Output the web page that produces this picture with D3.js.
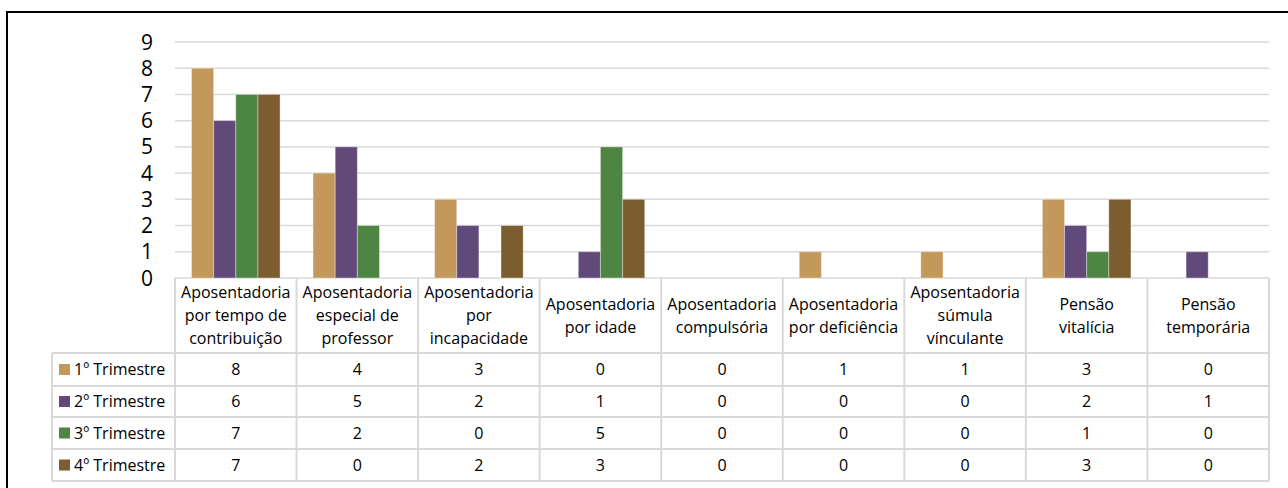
<!DOCTYPE html>
<meta charset="utf-8">
<style>
body { margin: 0; background: #fff; }
text { font-family: "Open Sans", sans-serif; fill: #000; }
.grid line { stroke: #d9d9d9; stroke-width: 1.5px; }
.tbl line { stroke: #d9d9d9; stroke-width: 2px; }
</style>
<svg width="1288" height="488"></svg>
<script src="https://d3js.org/d3.v7.min.js"></script>
<script>

// categories (header lines as they wrap in the table)
var categories = [
  ["Aposentadoria", "por tempo de", "contribuição"],
  ["Aposentadoria", "especial de", "professor"],
  ["Aposentadoria", "por", "incapacidade"],
  ["Aposentadoria", "por idade"],
  ["Aposentadoria", "compulsória"],
  ["Aposentadoria", "por deficiência"],
  ["Aposentadoria", "súmula", "vínculante"],
  ["Pensão", "vitalícia"],
  ["Pensão", "temporária"]
];
var seriesNames = ["1º Trimestre", "2º Trimestre", "3º Trimestre", "4º Trimestre"];
var seriesColors = ["#c3985a", "#614a7a", "#4e8542", "#7b5d2f"];
var q1 = [8, 4, 3, 0, 0, 1, 1, 3, 0];
var q2 = [6, 5, 2, 1, 0, 0, 0, 2, 1];
var q3 = [7, 2, 0, 5, 0, 0, 0, 1, 0];
var q4 = [7, 0, 2, 3, 0, 0, 0, 3, 0];
var yTicks = [0, 1, 2, 3, 4, 5, 6, 7, 8, 9];

var series = [q1, q2, q3, q4];
var catKeys = categories.map(function(c, i) { return i; });

var svg = d3.select("svg");

var plotLeft = 175, plotRight = 1269, plotTop = 42, base = 278;
var rowLines = [353, 386, 417, 449, 481];
var legendLeft = 52;

var y = d3.scaleLinear().domain([0, 9]).range([base, plotTop]);
var x0 = d3.scaleBand().domain(catKeys).range([plotLeft, plotRight]).padding(0);
var bw = x0.bandwidth();
var x1 = d3.scaleBand().domain(d3.range(series.length)).range([16.5, bw - 16.5]).padding(0);

// outer frame
svg.append("path")
    .attr("d", "M7,488 V12 H1288")
    .attr("fill", "none")
    .attr("stroke", "#000")
    .attr("stroke-width", 2);

// gridlines
svg.append("g").attr("class", "grid")
  .selectAll("line")
  .data(yTicks)
  .enter().append("line")
    .attr("x1", plotLeft).attr("x2", plotRight)
    .attr("y1", function(d) { return y(d); })
    .attr("y2", function(d) { return y(d); });

// y axis labels
svg.append("g")
  .selectAll("text")
  .data(yTicks)
  .enter().append("text")
    .attr("x", 153)
    .attr("y", function(d) { return y(d); })
    .attr("dy", "0.36em")
    .attr("text-anchor", "end")
    .attr("font-size", 21)
    .text(function(d) { return d; });

// bars
var groups = svg.append("g")
  .selectAll("g")
  .data(catKeys)
  .enter().append("g")
    .attr("transform", function(i) { return "translate(" + x0(i) + ",0)"; });

groups.selectAll("rect")
  .data(function(i) {
    return series.map(function(s, k) { return {k: k, v: s[i]}; })
      .filter(function(d) { return d.v > 0; });
  })
  .enter().append("rect")
    .attr("x", function(d) { return x1(d.k); })
    .attr("width", x1.bandwidth())
    .attr("y", function(d) { return y(d.v); })
    .attr("height", function(d) { return base - y(d.v); })
    .attr("fill", function(d) { return seriesColors[d.k]; })
    .attr("stroke", "rgba(255,255,255,0.35)")
    .attr("stroke-width", 1);

// data table
var tbl = svg.append("g").attr("class", "tbl");

tbl.selectAll("line.v")
  .data(d3.range(categories.length + 1))
  .enter().append("line")
    .attr("x1", function(i) { return plotLeft + i * bw; })
    .attr("x2", function(i) { return plotLeft + i * bw; })
    .attr("y1", base)
    .attr("y2", rowLines[rowLines.length - 1]);

tbl.append("line")
    .attr("x1", legendLeft).attr("x2", legendLeft)
    .attr("y1", rowLines[0]).attr("y2", rowLines[rowLines.length - 1]);

tbl.selectAll("line.h")
  .data(rowLines)
  .enter().append("line")
    .attr("x1", legendLeft).attr("x2", plotRight)
    .attr("y1", function(d) { return d; })
    .attr("y2", function(d) { return d; });

// header labels
var headMid = (base + rowLines[0]) / 2;
svg.append("g")
  .selectAll("text")
  .data(categories)
  .enter().append("text")
    .attr("text-anchor", "middle")
    .attr("font-size", 16)
    .each(function(lines, i) {
      var t = d3.select(this);
      var start = headMid - (lines.length - 1) * 23 / 2;
      lines.forEach(function(l, j) {
        t.append("tspan")
          .attr("x", x0(i) + bw / 2)
          .attr("y", start + j * 23)
          .attr("dy", "0.35em")
          .text(l);
      });
    });

// table rows
series.forEach(function(s, k) {
  var cy = (rowLines[k] + rowLines[k + 1]) / 2;
  svg.append("rect")
      .attr("x", 59).attr("y", cy - 5.5)
      .attr("width", 11).attr("height", 11)
      .attr("fill", seriesColors[k]);
  svg.append("text")
      .attr("x", 74).attr("y", cy)
      .attr("dy", "0.35em")
      .attr("font-size", 16)
      .text(seriesNames[k]);
  svg.append("g")
    .selectAll("text")
    .data(s)
    .enter().append("text")
      .attr("x", function(d, i) { return x0(i) + bw / 2; })
      .attr("y", cy)
      .attr("dy", "0.35em")
      .attr("text-anchor", "middle")
      .attr("font-size", 16)
      .text(function(d) { return d; });
});

</script>
